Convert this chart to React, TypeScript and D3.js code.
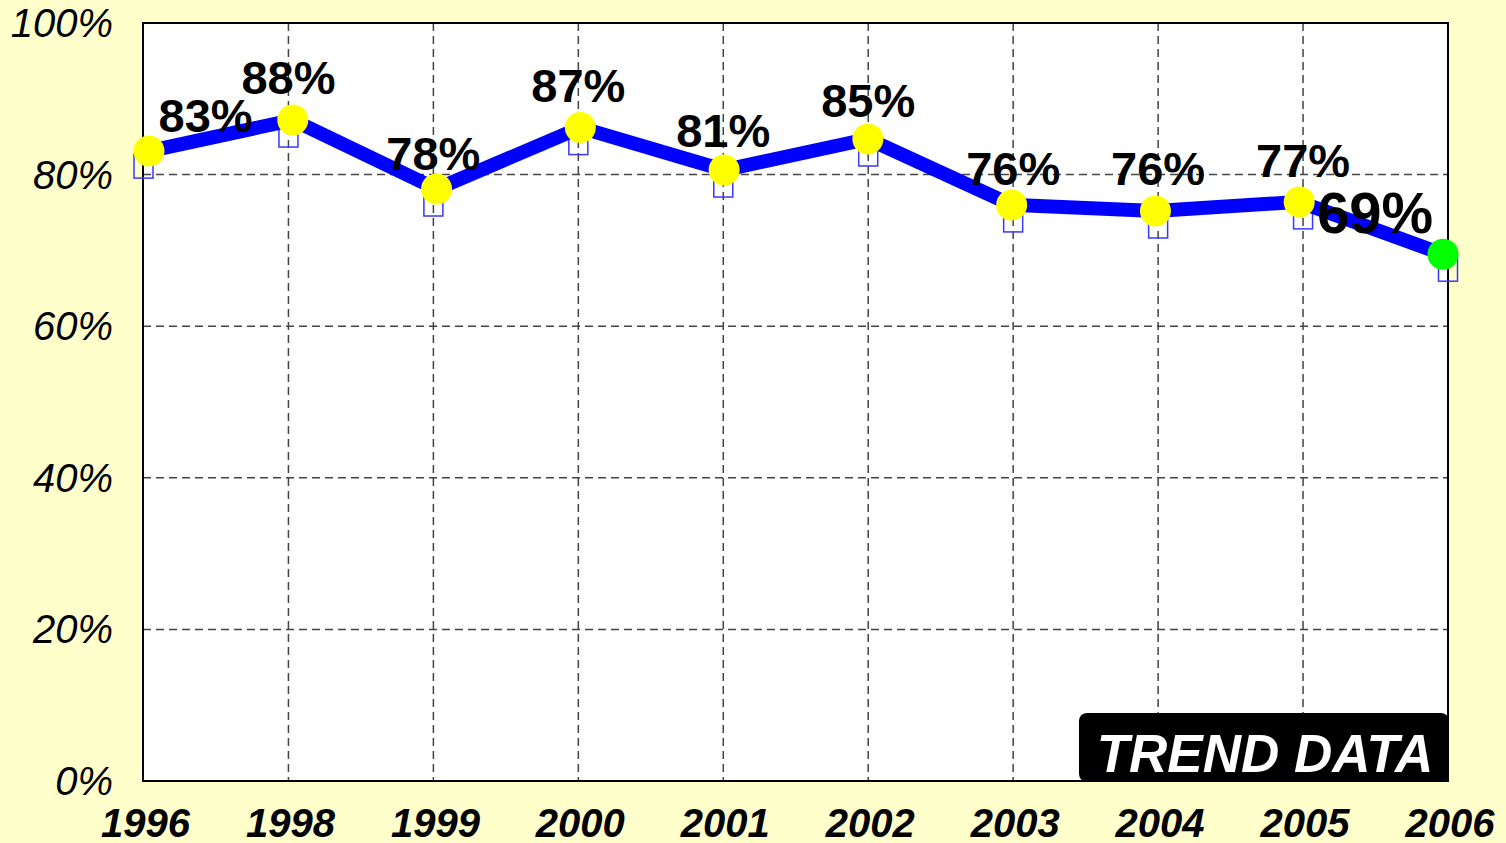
import { useEffect, useRef } from 'react';
import * as d3 from 'd3';

// chart data
const years = ['1996', '1998', '1999', '2000', '2001', '2002', '2003', '2004', '2005', '2006'];
const values = [83.1, 87.2, 78.1, 86.2, 80.6, 84.7, 76.0, 75.2, 76.4, 69.5];
const labelValues = [83, 88, 78, 87, 81, 85, 76, 76, 77, 69];
const yTicks = [0, 20, 40, 60, 80, 100];

const W = 1506;
const H = 843;
const FONT = '"Liberation Sans", Arial, Helvetica, sans-serif';

function App() {
    const svgRef = useRef<SVGSVGElement | null>(null);

    useEffect(() => {
        if (!svgRef.current) return;
        const svg = d3.select(svgRef.current);
        svg.selectAll('*').remove();

        const left = 143, right = 1448, top = 23, bottom = 781;

        const y = d3.scaleLinear().domain([0, 100]).range([bottom, top]);
        const xGrid = d3.scalePoint<string>().domain(years).range([143.5, 1448]);
        const xMark = d3.scalePoint<string>().domain(years).range([149, 1443]);

        svg.append('rect')
            .attr('width', W).attr('height', H)
            .attr('fill', '#ffffcc');

        svg.append('rect')
            .attr('x', left).attr('y', top)
            .attr('width', right - left).attr('height', bottom - top)
            .attr('fill', '#ffffff');

        // dashed grid
        const grid = svg.append('g')
            .attr('stroke', '#444')
            .attr('stroke-width', 1.5)
            .attr('stroke-dasharray', '8,5');

        grid.selectAll('line.h')
            .data(yTicks.filter(t => t > 0 && t < 100))
            .join('line')
            .attr('class', 'h')
            .attr('x1', left).attr('x2', right)
            .attr('y1', d => y(d)).attr('y2', d => y(d));

        grid.selectAll('line.v')
            .data(years.slice(1, -1))
            .join('line')
            .attr('class', 'v')
            .attr('x1', d => xGrid(d)!).attr('x2', d => xGrid(d)!)
            .attr('y1', top).attr('y2', bottom);

        svg.append('rect')
            .attr('x', left).attr('y', top)
            .attr('width', right - left).attr('height', bottom - top)
            .attr('fill', 'none')
            .attr('stroke', '#000')
            .attr('stroke-width', 2);

        // y axis labels
        svg.append('g')
            .selectAll('text')
            .data(yTicks)
            .join('text')
            .attr('x', 113)
            .attr('y', d => y(d) + 14)
            .attr('text-anchor', 'end')
            .attr('font-family', FONT)
            .attr('font-style', 'italic')
            .attr('font-size', 40)
            .text(d => `${d}%`);

        // x axis labels
        svg.append('g')
            .selectAll('text')
            .data(years)
            .join('text')
            .attr('x', d => xGrid(d)! + 2)
            .attr('y', 837)
            .attr('text-anchor', 'middle')
            .attr('font-family', FONT)
            .attr('font-style', 'italic')
            .attr('font-weight', 'bold')
            .attr('font-size', 40)
            .text(d => d);

        // little hollow boxes under the markers
        svg.append('g')
            .selectAll('rect')
            .data(years)
            .join('rect')
            .attr('x', d => xGrid(d)! - 9.5)
            .attr('y', (d, i) => y(values[i]) + 3)
            .attr('width', 19)
            .attr('height', 24)
            .attr('fill', 'none')
            .attr('stroke', '#3838ff')
            .attr('stroke-width', 1.5);

        const line = d3.line<number>()
            .x((d, i) => xMark(years[i])!)
            .y(d => y(d));

        svg.append('path')
            .datum(values)
            .attr('d', line)
            .attr('fill', 'none')
            .attr('stroke', '#0000ff')
            .attr('stroke-width', 14)
            .attr('stroke-linejoin', 'round');

        svg.append('g')
            .selectAll('circle')
            .data(values)
            .join('circle')
            .attr('cx', (d, i) => xMark(years[i])!)
            .attr('cy', d => y(d))
            .attr('r', 15.5)
            .attr('fill', (d, i) => i === values.length - 1 ? '#00ff00' : '#ffff00');

        // value labels
        const last = labelValues.length - 1;
        svg.append('g')
            .selectAll('text')
            .data(labelValues)
            .join('text')
            .attr('x', (d, i) => {
                const gx = xGrid(years[i])!;
                if (i === 0) return gx + 15;
                if (i === last) return gx - 15;
                return gx;
            })
            .attr('y', (d, i) => i === last ? y(d) - 25 : y(d) - 20)
            .attr('text-anchor', (d, i) => i === 0 ? 'start' : i === last ? 'end' : 'middle')
            .attr('font-family', FONT)
            .attr('font-weight', 'bold')
            .attr('font-size', (d, i) => i === last ? 58 : 47)
            .attr('fill', '#000')
            .text(d => `${d}%`);

        // trend data badge
        svg.append('rect')
            .attr('x', 1079).attr('y', 713)
            .attr('width', 370).attr('height', 69)
            .attr('rx', 8)
            .attr('fill', '#000');

        svg.append('text')
            .attr('x', 1265)
            .attr('y', 772)
            .attr('text-anchor', 'middle')
            .attr('font-family', FONT)
            .attr('font-style', 'italic')
            .attr('font-weight', 'bold')
            .attr('font-size', 53)
            .attr('fill', '#fff')
            .text('TREND DATA');
    }, []);

    return (
        <svg
            ref={svgRef}
            width={W}
            height={H}
            style={{ position: 'absolute', left: 0, top: 0, display: 'block' }}
        />
    );
}

export default App;
